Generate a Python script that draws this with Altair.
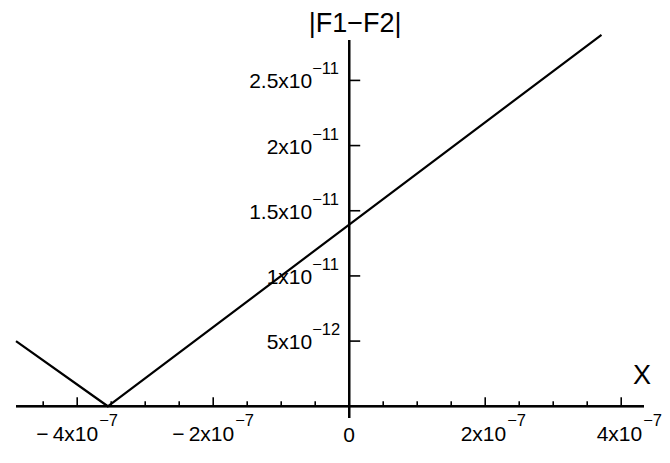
import altair as alt
import pandas as pd

FONT = "Liberation Sans"

# ---- data ----
curve_x = [-4.90e-7, -3.55e-7, 3.71e-7]
curve_y = [0.50e-11, 0.0, 2.85e-11]

x_major = [-4e-7, -2e-7, 2e-7, 4e-7]
x_minor = [-4.5e-7, -3.5e-7, -3e-7, -2.5e-7, -1.5e-7, -1e-7, -0.5e-7,
           0.5e-7, 1e-7, 1.5e-7, 2.5e-7, 3e-7, 3.5e-7]
x_labels = ["\u2212\u20094x10", "\u2212\u20092x10", "2x10", "4x10"]
x_exp = "\u22127"

y_ticks = [0.5e-11, 1e-11, 1.5e-11, 2e-11, 2.5e-11]
y_labels = ["5x10", "1x10", "1.5x10", "2x10", "2.5x10"]
y_exps = ["\u221212", "\u221211", "\u221211", "\u221211", "\u221211"]

x_domain = [-4.9e-7, 4.335e-7]
y_domain = [-0.09e-11, 2.81e-11]

xs = alt.Scale(domain=x_domain, nice=False, zero=False)
ys = alt.Scale(domain=y_domain, nice=False, zero=False)

curve_df = pd.DataFrame({"x": curve_x, "y": curve_y})
xmaj_df = pd.DataFrame({"x": x_major, "label": x_labels, "exp": x_exp})
xmin_df = pd.DataFrame({"x": x_minor})
y_df = pd.DataFrame({"y": y_ticks, "label": y_labels, "exp": y_exps})

base_x = lambda f="x": alt.X(f"{f}:Q", scale=xs, axis=None)
base_y = lambda f="y": alt.Y(f"{f}:Q", scale=ys, axis=None)

# axis lines
x_axis = alt.Chart(curve_df).mark_rule(color="black", strokeWidth=2).encode(
    x=alt.datum(x_domain[0], scale=xs, axis=None),
    x2=alt.datum(x_domain[1]),
    y=alt.datum(0, scale=ys, axis=None),
)
y_axis = alt.Chart(curve_df).mark_rule(color="black", strokeWidth=2).encode(
    x=alt.datum(0, scale=xs, axis=None),
    y=alt.datum(y_domain[0], scale=ys, axis=None),
    y2=alt.datum(y_domain[1]),
)

# x ticks (pointing up)
x_major_ticks = alt.Chart(xmaj_df).mark_rule(color="black", strokeWidth=1.6, y2Offset=-9).encode(
    x=base_x(), y=alt.datum(0, scale=ys, axis=None), y2=alt.datum(0)
)
x_minor_ticks = alt.Chart(xmin_df).mark_rule(color="black", strokeWidth=1.6, y2Offset=-5).encode(
    x=base_x(), y=alt.datum(0, scale=ys, axis=None), y2=alt.datum(0)
)
# y ticks (pointing right)
y_tick_marks = alt.Chart(y_df).mark_rule(color="black", strokeWidth=1.6, x2Offset=11).encode(
    y=base_y(), x=alt.datum(0, scale=xs, axis=None), x2=alt.datum(0)
)

# x labels
x_lab = alt.Chart(xmaj_df).mark_text(
    align="right", baseline="middle", dx=21, dy=29, fontSize=21, font=FONT, color="black"
).encode(x=base_x(), y=alt.datum(0, scale=ys, axis=None), text="label:N")
x_sup = alt.Chart(xmaj_df).mark_text(
    align="left", baseline="middle", dx=22, dy=15, fontSize=16.5, font=FONT, color="black"
).encode(x=base_x(), y=alt.datum(0, scale=ys, axis=None), text="exp:N")
x_zero = alt.Chart(curve_df.head(1)).mark_text(
    align="center", baseline="middle", dy=30, fontSize=21, font=FONT, color="black"
).encode(x=alt.datum(0, scale=xs, axis=None), y=alt.datum(0, scale=ys, axis=None), text=alt.value("0"))

# y labels
y_lab = alt.Chart(y_df).mark_text(
    align="right", baseline="middle", dx=-37, dy=2, fontSize=21, font=FONT, color="black"
).encode(y=base_y(), x=alt.datum(0, scale=xs, axis=None), text="label:N")
y_sup = alt.Chart(y_df).mark_text(
    align="left", baseline="middle", dx=-37, dy=-11, fontSize=16.5, font=FONT, color="black"
).encode(y=base_y(), x=alt.datum(0, scale=xs, axis=None), text="exp:N")

# axis titles
y_title = alt.Chart(curve_df.head(1)).mark_text(
    align="center", baseline="middle", dx=6, dy=-16, fontSize=27, font=FONT, color="black"
).encode(x=alt.datum(0, scale=xs, axis=None), y=alt.datum(y_domain[1], scale=ys, axis=None),
         text=alt.value("|F1\u2212F2|"))
x_title = alt.Chart(curve_df.head(1)).mark_text(
    align="center", baseline="middle", dx=-2, dy=-30, fontSize=27, font=FONT, color="black"
).encode(x=alt.datum(x_domain[1], scale=xs, axis=None), y=alt.datum(0, scale=ys, axis=None),
         text=alt.value("X"))

# curve
line = alt.Chart(curve_df).mark_line(color="black", strokeWidth=2.2).encode(
    x=base_x(), y=base_y()
)

chart = alt.layer(
    x_axis, y_axis, x_major_ticks, x_minor_ticks, y_tick_marks,
    x_lab, x_sup, x_zero, y_lab, y_sup, y_title, x_title, line
).properties(
    width=628, height=378,
    padding={"left": 8, "top": 32, "right": 18, "bottom": 37},
    autosize=alt.AutoSizeParams(type="none"),
    background="white",
).configure_view(stroke=None)

chart.save("out.html", embed_options={"renderer": "svg", "actions": False})
